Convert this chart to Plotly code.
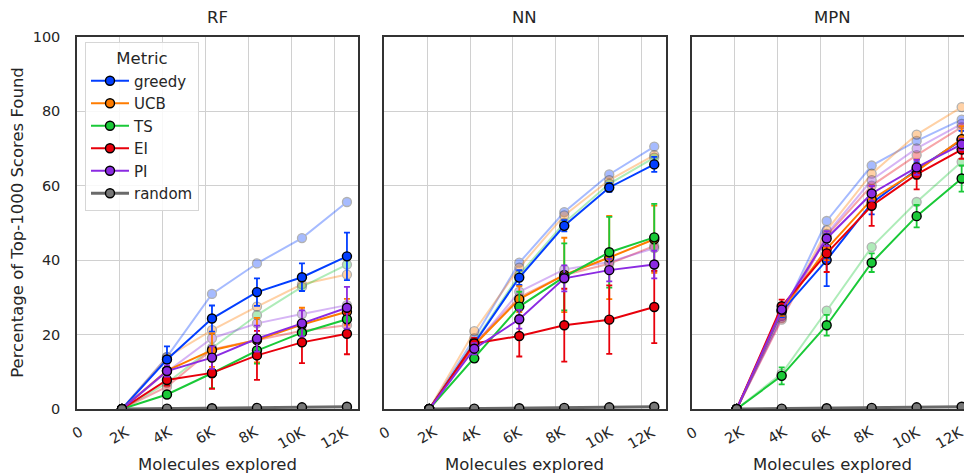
import plotly.graph_objects as go

# Molecules explored after each acquisition round
explored = [2100, 4200, 6300, 8400, 10500, 12600]

metrics = ["greedy", "UCB", "TS", "EI", "PI", "random"]
colors = {
    "greedy": "#023eff",
    "UCB": "#ff7c00",
    "TS": "#1ac938",
    "EI": "#e8000b",
    "PI": "#8b2be2",
    "random": "#6a6a6a",
}

panels = ["RF", "NN", "MPN"]

# Mean percentage of top-1000 scores found (main runs)
rf_greedy = [0, 13.3, 24.3, 31.4, 35.4, 41.0]
rf_ucb = [0, 10.3, 15.8, 18.5, 22.7, 26.1]
rf_ts = [0, 3.9, 9.6, 15.7, 20.5, 24.1]
rf_ei = [0, 7.8, 9.7, 14.4, 17.9, 20.2]
rf_pi = [0, 10.2, 13.8, 18.9, 23.0, 27.2]
rf_random = [0, 0.1, 0.2, 0.3, 0.45, 0.6]

nn_greedy = [0, 17.8, 35.3, 49.2, 59.5, 65.7]
nn_ucb = [0, 17.2, 29.5, 36.0, 40.7, 45.6]
nn_ts = [0, 13.6, 27.5, 35.5, 42.1, 46.1]
nn_ei = [0, 17.6, 19.6, 22.5, 24.0, 27.4]
nn_pi = [0, 16.2, 24.1, 35.1, 37.3, 38.8]
nn_random = [0, 0.1, 0.2, 0.3, 0.45, 0.6]

mpn_greedy = [0, 26.2, 40.0, 55.3, 64.3, 72.2]
mpn_ucb = [0, 26.5, 43.0, 56.3, 63.9, 72.5]
mpn_ts = [0, 8.9, 22.5, 39.3, 51.8, 61.9]
mpn_ei = [0, 27.6, 41.8, 54.6, 63.0, 69.7]
mpn_pi = [0, 26.7, 45.8, 57.9, 64.9, 71.1]
mpn_random = [0, 0.1, 0.2, 0.3, 0.45, 0.6]

# Standard deviations of the main runs
rf_greedy_err = [0, 3.5, 3.5, 3.7, 3.7, 6.4]
rf_ucb_err = [0, 1.0, 4.5, 6.0, 4.5, 3.5]
rf_ts_err = [0, 0.8, 4.0, 3.5, 3.0, 3.0]
rf_ei_err = [0, 1.5, 4.3, 6.6, 5.6, 5.5]
rf_pi_err = [0, 1.5, 3.0, 3.5, 3.5, 5.6]
rf_random_err = [0, 0, 0, 0, 0, 0]

nn_greedy_err = [0, 1.0, 2.0, 1.5, 1.2, 2.0]
nn_ucb_err = [0, 1.0, 3.5, 10.0, 11.2, 9.0]
nn_ts_err = [0, 1.0, 4.0, 9.0, 9.5, 9.0]
nn_ei_err = [0, 1.5, 5.5, 9.8, 9.2, 9.7]
nn_pi_err = [0, 1.5, 2.5, 3.5, 3.0, 3.7]
nn_random_err = [0, 0, 0, 0, 0, 0]

mpn_greedy_err = [0, 1.5, 7.0, 3.0, 2.0, 2.5]
mpn_ucb_err = [0, 1.5, 3.0, 2.0, 2.0, 3.5]
mpn_ts_err = [0, 2.3, 2.8, 2.5, 3.0, 3.5]
mpn_ei_err = [0, 1.8, 5.0, 5.4, 4.0, 2.5]
mpn_pi_err = [0, 1.0, 2.0, 2.0, 2.0, 1.5]
mpn_random_err = [0, 0, 0, 0, 0, 0]

# Comparison runs, drawn faded behind the main runs
rf_greedy_alt = [0, 14.0, 30.9, 39.1, 45.9, 55.6]
rf_ucb_alt = [0, 13.9, 21.2, 27.5, 33.5, 36.1]
rf_ts_alt = [0, 7.0, 16.4, 25.2, 32.8, 38.8]
rf_ei_alt = [0, 6.0, 16.0, 18.5, 21.0, 22.5]
rf_pi_alt = [0, 10.0, 19.0, 23.0, 25.5, 27.9]

nn_greedy_alt = [0, 19.0, 39.3, 52.9, 63.0, 70.5]
nn_ucb_alt = [0, 20.9, 38.0, 52.0, 61.5, 68.2]
nn_ts_alt = [0, 18.0, 36.0, 50.0, 60.5, 67.5]
nn_ei_alt = [0, 17.5, 30.0, 36.0, 39.0, 43.8]
nn_pi_alt = [0, 17.0, 31.5, 37.5, 39.5, 43.2]

mpn_greedy_alt = [0, 25.0, 50.5, 65.4, 72.0, 77.7]
mpn_ucb_alt = [0, 25.0, 48.0, 63.2, 73.7, 81.1]
mpn_ts_alt = [0, 9.5, 26.4, 43.5, 55.6, 66.4]
mpn_ei_alt = [0, 24.0, 46.5, 60.0, 68.2, 75.7]
mpn_pi_alt = [0, 24.5, 47.0, 61.5, 70.0, 76.6]

x_tick_vals = [0, 2000, 4000, 6000, 8000, 10000, 12000]
x_tick_text = ["0", "2K", "4K", "6K", "8K", "10K", "12K"]
y_tick_vals = [0, 20, 40, 60, 80, 100]

main = {
    "RF": [rf_greedy, rf_ucb, rf_ts, rf_ei, rf_pi, rf_random],
    "NN": [nn_greedy, nn_ucb, nn_ts, nn_ei, nn_pi, nn_random],
    "MPN": [mpn_greedy, mpn_ucb, mpn_ts, mpn_ei, mpn_pi, mpn_random],
}
errors = {
    "RF": [rf_greedy_err, rf_ucb_err, rf_ts_err, rf_ei_err, rf_pi_err, rf_random_err],
    "NN": [nn_greedy_err, nn_ucb_err, nn_ts_err, nn_ei_err, nn_pi_err, nn_random_err],
    "MPN": [mpn_greedy_err, mpn_ucb_err, mpn_ts_err, mpn_ei_err, mpn_pi_err, mpn_random_err],
}
alt = {
    "RF": [rf_greedy_alt, rf_ucb_alt, rf_ts_alt, rf_ei_alt, rf_pi_alt],
    "NN": [nn_greedy_alt, nn_ucb_alt, nn_ts_alt, nn_ei_alt, nn_pi_alt],
    "MPN": [mpn_greedy_alt, mpn_ucb_alt, mpn_ts_alt, mpn_ei_alt, mpn_pi_alt],
}

W, H = 964, 473
FONT = "DejaVu Sans"
TEXT = "#262626"
LABEL_SIZE = 16.5
TICK_SIZE = 14.5

def fx(px):
    return px / W

def fy(px):
    return 1 - px / H

# Panel geometry (pixels); the last panel runs past the right edge of the page
panel_left = [77, 384.3, 691.7]
panel_width = 281.2
x_full = 13125
y_top, y_bottom = 36.7, 409

fig = go.Figure()

for i, name in enumerate(panels):
    xa = "x" if i == 0 else f"x{i + 1}"
    ya = "y" if i == 0 else f"y{i + 1}"
    for k, vals in enumerate(alt[name]):
        m = metrics[k]
        fig.add_trace(go.Scatter(
            x=explored, y=vals, xaxis=xa, yaxis=ya, mode="lines+markers",
            opacity=0.35, showlegend=False, hoverinfo="skip",
            line=dict(color=colors[m], width=2),
            marker=dict(size=9, color=colors[m], line=dict(color="#222", width=1.3)),
        ))
    for k, m in enumerate(metrics):
        is_random = m == "random"
        fig.add_trace(go.Scatter(
            x=explored, y=main[name][k], xaxis=xa, yaxis=ya, mode="lines+markers",
            name=m, showlegend=(i == 0),
            line=dict(color=colors[m], width=(3 if is_random else 2)),
            marker=dict(size=9, color=("#777777" if is_random else colors[m]),
                        line=dict(color="#000", width=1.4)),
            error_y=dict(type="data", array=errors[name][k], visible=True,
                         color=colors[m], thickness=1.8, width=3),
        ))

layout = dict(
    width=W, height=H,
    margin=dict(l=0, r=0, t=0, b=0, autoexpand=False),
    paper_bgcolor="white", plot_bgcolor="white",
    font=dict(family=FONT, size=14, color=TEXT),
    showlegend=True,
    legend=dict(
        x=fx(85), y=fy(42), xanchor="left", yanchor="top",
        bgcolor="rgba(255,255,255,0.85)", bordercolor="#d6d6d6", borderwidth=1,
        font=dict(family=FONT, size=15, color=TEXT),
        title=dict(text="Metric", side="top center",
                   font=dict(family=FONT, size=LABEL_SIZE, color=TEXT)),
        itemwidth=38, tracegroupgap=0, traceorder="normal",
    ),
)

annotations = []
for i, name in enumerate(panels):
    sx = "" if i == 0 else str(i + 1)
    left = panel_left[i]
    right = min(left + panel_width, W)
    rng_end = x_full * (right - left) / panel_width
    layout[f"xaxis{sx}"] = dict(
        domain=[fx(left), fx(right)], range=[0, rng_end], anchor=f"y{sx}",
        tickvals=x_tick_vals, showticklabels=False, ticks="", automargin=False,
        showgrid=True, gridcolor="#d0d0d0", gridwidth=1.2, zeroline=False,
        showline=True, linecolor="#333", linewidth=1.5, mirror=True,
    )
    layout[f"yaxis{sx}"] = dict(
        domain=[fy(y_bottom), fy(y_top)], range=[0, 100], anchor=f"x{sx}",
        tickvals=y_tick_vals, showticklabels=(i == 0), ticks="", automargin=False,
        ticklabelstandoff=12, tickfont=dict(size=TICK_SIZE, color=TEXT),
        showgrid=True, gridcolor="#d0d0d0", gridwidth=1.2, zeroline=False,
        showline=True, linecolor="#333", linewidth=1.5, mirror=(i < 2),
    )
    # Panel title
    center = fx(left + panel_width / 2)
    annotations.append(dict(
        text=name, x=center, y=fy(18), xref="paper", yref="paper",
        showarrow=False, xanchor="center", yanchor="middle",
        font=dict(family=FONT, size=LABEL_SIZE, color=TEXT),
    ))
    # Axis title
    annotations.append(dict(
        text="Molecules explored", x=center, y=fy(464), xref="paper", yref="paper",
        showarrow=False, xanchor="center", yanchor="middle",
        font=dict(family=FONT, size=LABEL_SIZE, color=TEXT),
    ))
    # Rotated x tick labels, centred under each tick
    for v, t in zip(x_tick_vals, x_tick_text):
        annotations.append(dict(
            text=t, x=v, y=fy(421), xref=f"x{sx}", yref="paper",
            showarrow=False, xanchor="center", yanchor="top", textangle=-30,
            font=dict(family=FONT, size=TICK_SIZE, color=TEXT),
        ))

annotations.append(dict(
    text="Percentage of Top-1000 Scores Found", x=fx(18), y=fy((y_top + y_bottom) / 2),
    xref="paper", yref="paper", showarrow=False, textangle=-90,
    xanchor="center", yanchor="middle",
    font=dict(family=FONT, size=LABEL_SIZE, color=TEXT),
))
layout["annotations"] = annotations

fig.update_layout(**layout)
fig.write_html("out.html")
